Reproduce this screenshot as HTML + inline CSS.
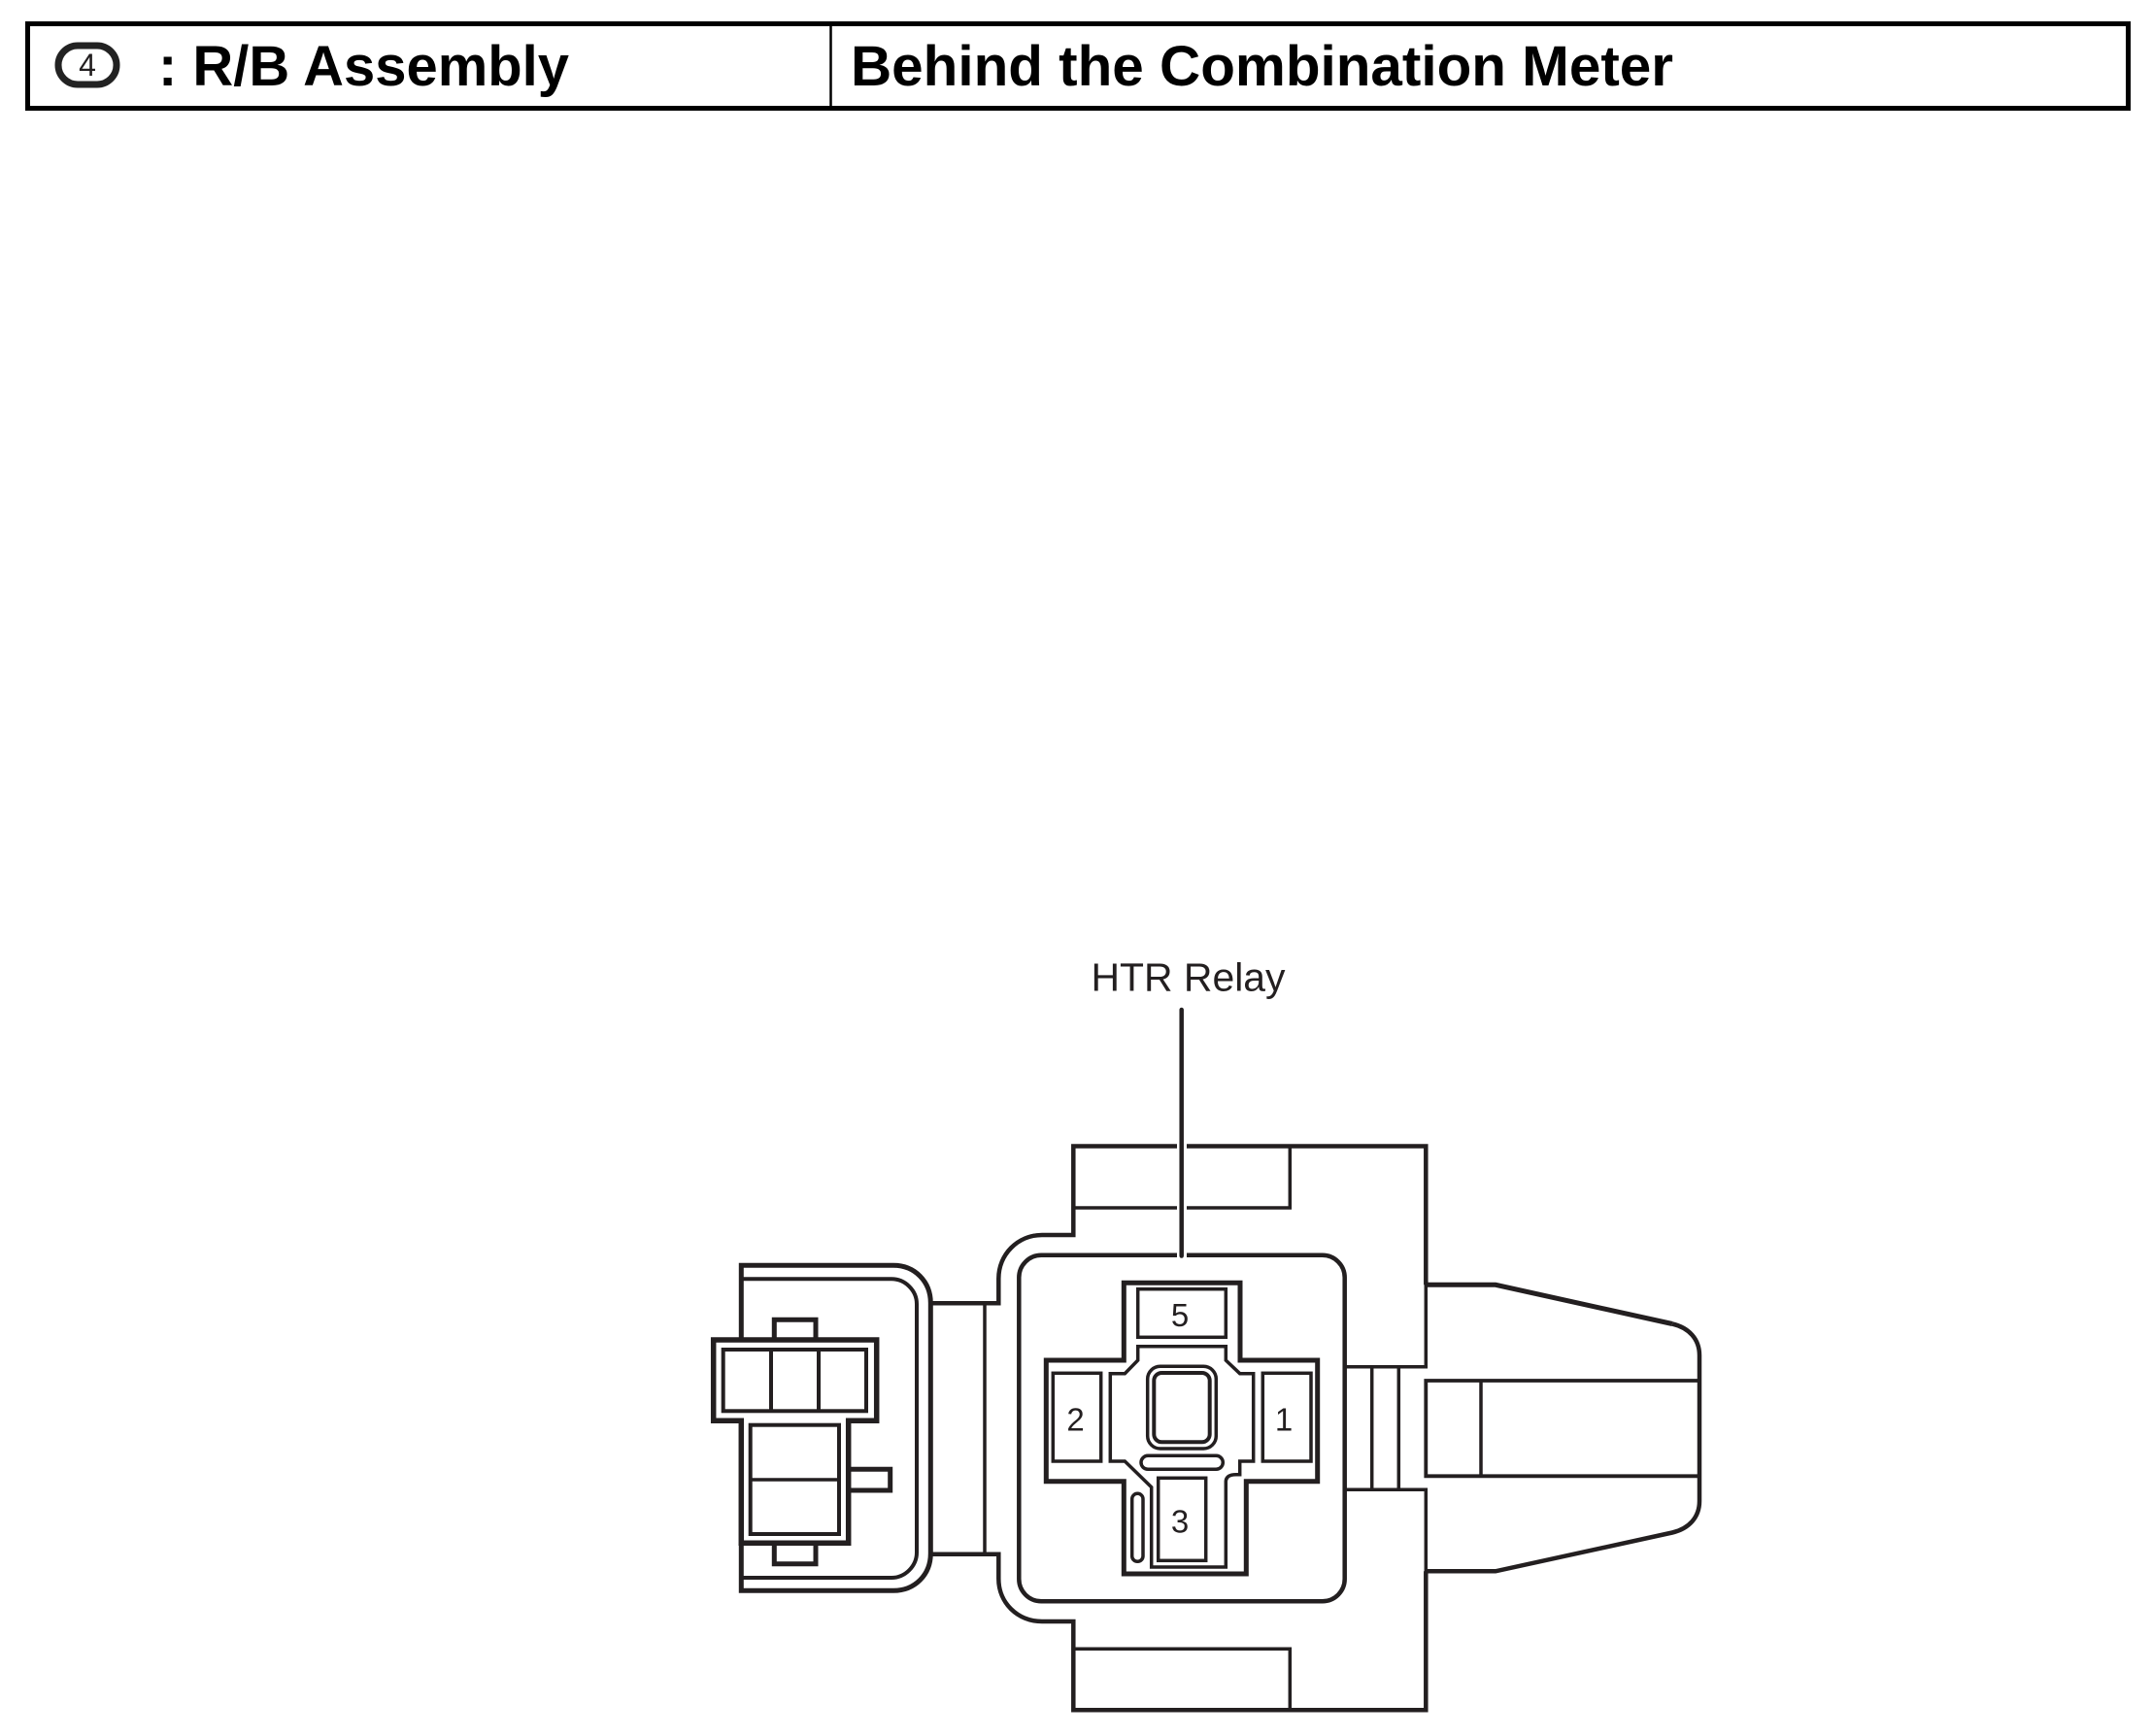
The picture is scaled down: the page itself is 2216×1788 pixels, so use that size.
<!DOCTYPE html>
<html><head><meta charset="utf-8"><style>
html,body{margin:0;padding:0;background:#fff}
svg{display:block}
text{font-family:"Liberation Sans",sans-serif;fill:#231f20}
</style></head><body>
<svg width="2216" height="1788" viewBox="0 0 2216 1788" xmlns="http://www.w3.org/2000/svg">
<rect width="2216" height="1788" fill="#fff"/>
<!-- header -->
<rect x="28.5" y="24.5" width="2163" height="87" fill="none" stroke="#000" stroke-width="5"/>
<line x1="855.5" y1="24" x2="855.5" y2="112" stroke="#000" stroke-width="2.5"/>
<rect x="60" y="47" width="60" height="40" rx="20" fill="none" stroke="#222" stroke-width="7"/>
<text x="90" y="78" font-size="32" text-anchor="middle">4</text>
<text x="163" y="88" font-size="58" font-weight="bold" style="fill:#000" textLength="423" lengthAdjust="spacingAndGlyphs">: R/B Assembly</text>
<text x="876" y="88" font-size="58" font-weight="bold" style="fill:#000" textLength="847" lengthAdjust="spacingAndGlyphs">Behind the Combination Meter</text>

<!-- label -->
<text x="1123.5" y="1020.7" font-size="41" textLength="200" lengthAdjust="spacingAndGlyphs">HTR Relay</text>

<g fill="none" stroke="#231f20" stroke-linejoin="miter" stroke-linecap="butt">
<!-- left connector housing -->
<path stroke-width="5" d="M763.3 1380V1303.3H920C942 1303.3 958.3 1320 958.3 1342V1600C958.3 1622 942 1638.3 920 1638.3H763.3V1590"/>
<path stroke-width="4" d="M765 1317.3H918C932 1317.3 944 1329 944 1343V1599C944 1613 932 1625 918 1625H765"/>
<!-- connector body -->
<path stroke-width="5" d="M797.3 1380V1359.3H840V1380"/>
<path stroke-width="5.5" d="M734.7 1380H902.7V1463.3H873.7V1589.3H763.3V1463.3H734.7Z"/>
<path stroke-width="5" d="M797.3 1590V1610.7H840V1590"/>
<rect stroke-width="4" x="744.7" y="1390" width="147.3" height="63.3"/>
<path stroke-width="4" d="M794 1390V1453M843 1390V1453"/>
<rect stroke-width="4" x="772.7" y="1467.7" width="91.3" height="112.3"/>
<path stroke-width="3.5" d="M773 1524H864"/>
<path stroke-width="5" d="M873.7 1513.3H916.7V1535H873.7"/>
<!-- neck -->
<path stroke-width="4.5" d="M958.3 1342.3H1028.3V1317C1028.3 1292 1048 1272 1073 1272H1105.3V1180.5H1468.3V1323.3"/>
<path stroke-width="4.5" d="M958.3 1600.7H1028.3V1626C1028.3 1651 1048 1670 1073 1670H1105.3V1761.3H1468.3V1618.3"/>
<path stroke-width="3.5" d="M1014 1342V1601"/>
<!-- inner panels of main -->
<path stroke-width="3.5" d="M1105 1244H1328.3V1180"/>
<path stroke-width="3.5" d="M1105 1698.3H1328.3V1761"/>
<!-- relay box -->
<rect stroke-width="4.5" x="1049.3" y="1292.8" width="335.4" height="356.5" rx="23"/>
<!-- cross -->
<path stroke-width="5" d="M1157.3 1401V1321.3H1277V1401H1356.7V1525.7H1283.3V1621H1157.3V1525.7H1077.3V1401Z"/>
<!-- inner outline -->
<path stroke-width="3.5" d="M1171.7 1386.7H1262.3V1401L1276.7 1414.7H1290.7V1505H1276.7V1518.7H1273C1268 1518.7 1262.3 1520 1262.3 1526V1614H1185.7V1531.7L1158.3 1505H1143.3V1414.7H1158.3L1171.7 1401Z"/>
<!-- pins -->
<rect stroke-width="3.5" x="1171.7" y="1327.7" width="90.6" height="49.6"/>
<rect stroke-width="3.5" x="1084.3" y="1414.3" width="49.4" height="90.7"/>
<rect stroke-width="3.5" x="1300.3" y="1414.3" width="49.7" height="90.7"/>
<rect stroke-width="3.5" x="1192.7" y="1522.3" width="49" height="85"/>
<!-- centre -->
<rect stroke-width="3.5" x="1181.7" y="1407.3" width="70.6" height="84.7" rx="13"/>
<rect stroke-width="4" x="1188.3" y="1414" width="57.4" height="71.3" rx="8"/>
<rect stroke-width="3.5" x="1175" y="1499.3" width="84.3" height="14" rx="7"/>
<rect stroke-width="3.5" x="1165.7" y="1538.3" width="11.3" height="70" rx="5.6"/>
<!-- right side -->
<path stroke-width="3.5" d="M1468.3 1323V1407.7H1385M1468.3 1618.5V1534.3H1385"/>
<path stroke-width="3.5" d="M1412.7 1407.7V1534.3M1440.3 1407.7V1534.3"/>
<path stroke-width="5" d="M1468.3 1323.3H1540L1722 1363.5"/>
<path stroke-width="4.5" d="M1722 1363.5C1739 1367.5 1750 1379 1750 1396V1546C1750 1563 1739 1574.5 1722 1578.5L1540 1618.3H1468.3"/>
<path stroke-width="3.8" d="M1750 1422H1468.3V1520.3H1750"/>
<path stroke-width="3.5" d="M1525 1422V1520"/>
</g>
<!-- leader gap -->
<rect x="1212" y="1170" width="10" height="130" fill="#fff"/>
<line x1="1216.7" y1="1040" x2="1216.7" y2="1293.5" stroke="#231f20" stroke-width="4.5" stroke-linecap="round"/>
<!-- pin numbers -->
<g font-size="33" text-anchor="middle">
<text x="1215" y="1366">5</text>
<text x="1107.5" y="1473.5">2</text>
<text x="1322" y="1473.5">1</text>
<text x="1215" y="1578.5">3</text>
</g>
</svg>
</body></html>
